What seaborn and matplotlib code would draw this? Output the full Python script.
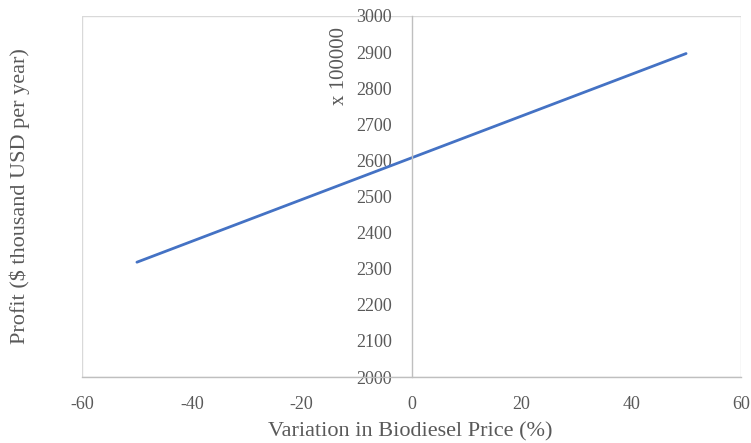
import matplotlib
matplotlib.use("Agg")
import matplotlib.pyplot as plt
import matplotlib.patches as patches
import seaborn as sns
import pandas as pd

# Biodiesel price sensitivity of annual profit
price_variation = [-50, 0, 50]
profit = [2318, 2607, 2896]
x_ticks = [-60, -40, -20, 0, 20, 40, 60]
y_ticks = [2000, 2100, 2200, 2300, 2400, 2500, 2600, 2700, 2800, 2900, 3000]

sns.set_style("white")
plt.rcParams['font.family'] = ['Liberation Serif', 'DejaVu Serif']
text_color = '#595959'

df = pd.DataFrame({'variation': price_variation, 'profit': profit})

fig = plt.figure(figsize=(7.51, 4.43), dpi=100)
ax = fig.add_axes([82/751, 1-377/443, (741-82)/751, (377-16)/443])

sns.lineplot(data=df, x='variation', y='profit', ax=ax, color='#4472C4',
             linewidth=2.0, solid_capstyle='round')

ax.set_xlim(-60, 60)
ax.set_ylim(2000, 3000)
ax.set_xticks(x_ticks)
ax.set_yticks(y_ticks)
ax.set_xticklabels([str(v) for v in x_ticks])
ax.set_yticklabels([str(v) for v in y_ticks])

# frame around the plot area
ax.add_patch(patches.Rectangle((0, 0), 1, 1, transform=ax.transAxes, fill=False,
                               edgecolor='#d9d9d9', linewidth=1.0, zorder=0.5))
for side in ['top', 'right']:
    ax.spines[side].set_visible(False)
ax.spines['left'].set_position(('data', 0))
ax.spines['left'].set_color('#bfbfbf')
ax.spines['left'].set_linewidth(1.0)
ax.spines['bottom'].set_color('#bfbfbf')
ax.spines['bottom'].set_linewidth(1.0)

ax.tick_params(axis='both', length=0, labelsize=13, labelcolor=text_color)
ax.tick_params(axis='y', pad=14)
ax.tick_params(axis='x', pad=14)

ax.set_xlabel('')
ax.set_ylabel('')
fig.text(410/751, 1-432/443, 'Variation in Biodiesel Price (%)',
         ha='center', va='center', fontsize=16, color=text_color)
fig.text(20/751, 1-196/443, 'Profit ($ thousand USD per year)', rotation=90,
         ha='center', va='center', fontsize=16, color=text_color)
fig.text(339/751, 1-66/443, 'x 100000', rotation=90, ha='center', va='center',
         fontsize=15, color=text_color)

fig.savefig('out.png', dpi=100)
